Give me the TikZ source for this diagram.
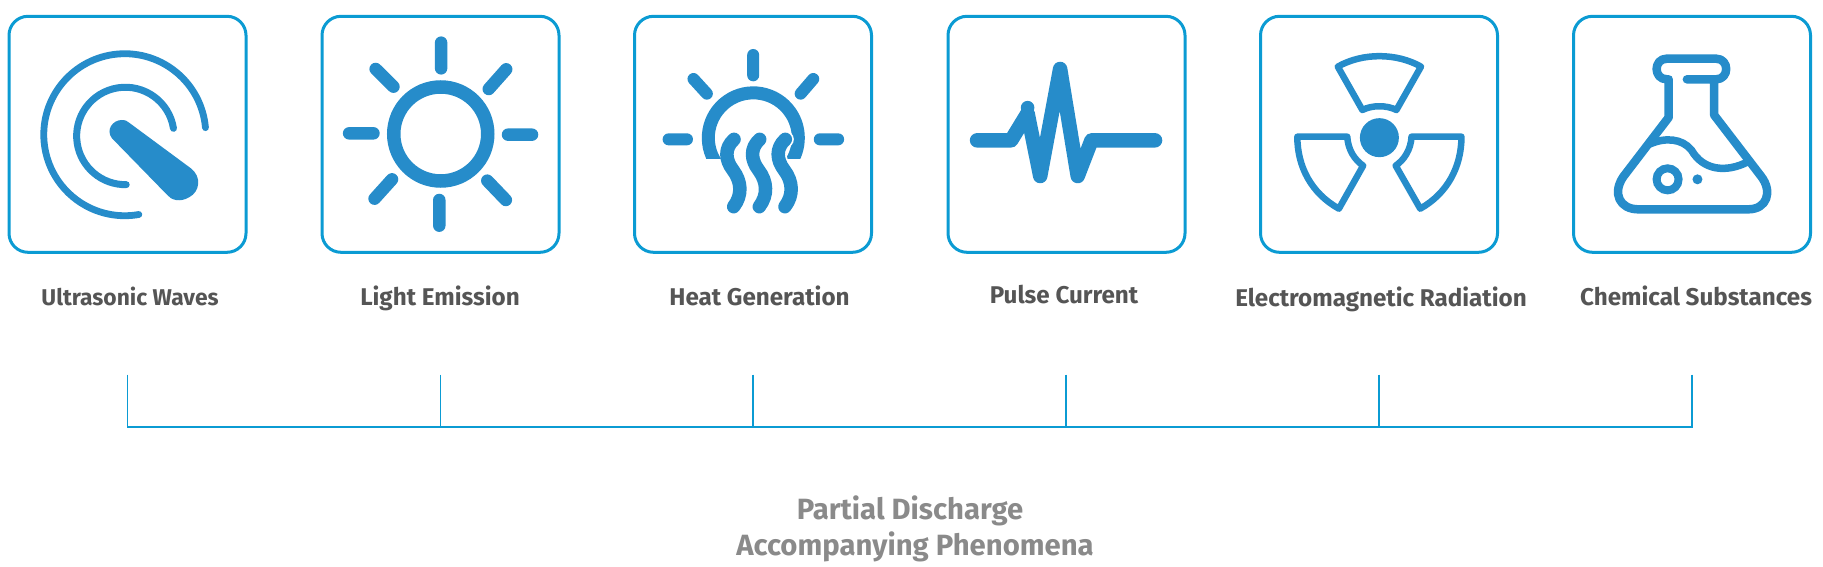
\documentclass[tikz,border=0pt]{standalone}
\usepackage{fontspec}
\setmainfont{Fira Sans}
\definecolor{framec}{HTML}{0B9BD3}
\definecolor{iconc}{HTML}{268CCA}
\definecolor{labc}{HTML}{555555}
\definecolor{capc}{HTML}{8A8A8A}
\tikzset{
  framebox/.style={draw=framec,line width=3pt,rounded corners=19pt,minimum width=237pt,minimum height=236pt,inner sep=0pt,fill=white},
  lab/.style={text=labc,anchor=base,font=\fontsize{24.2pt}{28pt}\selectfont\bfseries,inner sep=0pt},
  captext/.style={text=capc,anchor=base,font=\fontsize{29.3pt}{34pt}\selectfont\bfseries,inner sep=0pt},
  ink/.style={draw=iconc,line cap=round,line join=round},
  brk/.style={draw=framec},
  zoomA/.style={x=0.36364pt,y=-0.33333pt},
  zoomB/.style={shift={(620pt,0pt)},x=0.38270pt,y=-0.33333pt},
  zoomC/.style={shift={(1230pt,0pt)},x=0.37821pt,y=-0.33333pt},
}
\begin{document}
\begin{tikzpicture}[x=1pt,y=-1pt]
\useasboundingbox (0,0) rectangle (1823,567);
\foreach \n/\cx in {1/127.5,2/440.5,3/753,4/1066.5,5/1379,6/1692}{
  \node[framebox] (box\n) at (\cx,134.3) {};
}
% icon 1
\begin{scope}[zoomA]
\draw[ink,line width=6.8pt] (565,383) arc[start angle=5,end angle=280,radius=81pt];
\draw[ink,line width=7pt] (477,385) arc[start angle=9,end angle=271,radius=48.7pt];
\fill[iconc] (355,368) -- (525,505) .. controls (555,530) and (550,575) .. (520,592) .. controls (495,608) and (470,600) .. (460,585) -- (308,415) .. controls (290,390) and (310,360) .. (335,360) .. controls (345,360) and (350,363) .. (355,368) -- cycle;
% icon 2
\draw[draw=iconc,line width=13.5pt] (1212,402) circle[radius=47pt];
\draw[ink,line width=12.5pt]
  (1213,128) -- (1213,205) (1208,600) -- (1208,677)
  (960,400) -- (1027,400) (1397,404) -- (1463,404)
  (1033,207) -- (1082,260) (1392,208) -- (1344,267)
  (1078,538) -- (1030,596) (1340,542) -- (1391,600);
\end{scope}
% icon 3
\begin{scope}[zoomB]
\draw[ink,line width=12pt] (348,165) -- (348,226) (127,418) -- (175,418) (522,418) -- (570,418) (192,237) -- (227,281) (505,237) -- (472,281);
\begin{scope}
\clip (180,240) rectangle (520,475);
\draw[draw=iconc,line width=13pt] (252,491) arc[start angle=215,end angle=-35,radius=45pt];
\end{scope}
\begin{scope}[xshift=134*0.3827pt]
\draw[draw=white,line width=17pt,line cap=round] (298,418) .. controls (272,445) and (275,480) .. (295,510) .. controls (318,545) and (320,585) .. (297,620);
\end{scope}
\foreach \dx in {0,67,134}{
  \begin{scope}[xshift=\dx*0.3827pt]
  \draw[ink,line width=13.5pt] (298,418) .. controls (272,445) and (275,480) .. (295,510) .. controls (318,545) and (320,585) .. (297,620);
  \end{scope}
}
% icon 4
\draw[ink,line width=14.5pt] (933,421) -- (1022,421) -- (1065,340) -- (1098,528) -- (1150,207) -- (1196,528) -- (1232,421) -- (1398,421);
\fill[iconc] (1065,323) circle[radius=6.8pt];
\end{scope}
% icon 5, 6
\begin{scope}[zoomC]
\fill[iconc] (395,413) circle[radius=19.5pt];
\draw[ink,line width=6.5pt] (285,200) .. controls (350,158) and (440,158) .. (505,200) -- (440,330) .. controls (415,315) and (375,315) .. (350,330) -- cycle;
\draw[ink,line width=6.5pt] (178,410) -- (310,410) .. controls (312,450) and (330,480) .. (352,497) -- (288,626) .. controls (215,580) and (178,500) .. (178,410) -- cycle;
\draw[ink,line width=6.5pt] (612,410) -- (480,410) .. controls (478,450) and (460,480) .. (438,497) -- (503,626) .. controls (575,580) and (612,500) .. (612,410) -- cycle;
\draw[ink,line width=8.5pt] (1208,238) -- (1285,238) .. controls (1321,238) and (1321,176) .. (1285,176) -- (1155,176) .. controls (1119,176) and (1119,238) .. (1155,238) -- (1160,238) -- (1160,352) -- (1040,530) .. controls (1010,580) and (1030,628) .. (1080,628) -- (1370,628) .. controls (1420,628) and (1435,575) .. (1405,530) -- (1280,345) -- (1280,240);
\draw[ink,line width=7.5pt] (1110,432) .. controls (1150,412) and (1195,415) .. (1220,450) .. controls (1250,510) and (1310,520) .. (1370,485);
\draw[draw=iconc,line width=8pt] (1157,538) circle[radius=11pt];
\fill[iconc] (1236,538) circle[radius=5pt];
\end{scope}
% labels
\node[lab,font=\fontsize{22.8pt}{28pt}\selectfont\bfseries] (l1) at (130,305) {Ultrasonic Waves};
\node[lab] (l2) at (440,305) {Light Emission};
\node[lab] (l3) at (759.5,305) {Heat Generation};
\node[lab] (l4) at (1064,303) {Pulse Current};
\node[lab] (l5) at (1381,306) {Electromagnetic Radiation};
\node[lab] (l6) at (1696,305) {Chemical Substances};
\node[captext] (c1) at (910,519.5) {Partial Discharge};
\node[captext] (c2) at (915,555.5) {Accompanying Phenomena};
% bracket
\foreach \n/\cx in {1/127.5,2/440.5,3/753,4/1066,5/1379,6/1692}{
  \coordinate (t\n) at (\cx,374.5);
  \coordinate (b\n) at (\cx,427);
  \draw[brk,line width=1.8pt] (t\n) -- (b\n);
}
\draw[brk,line width=2pt,line cap=rect] (b1) -- (b6);
\end{tikzpicture}
\end{document}
